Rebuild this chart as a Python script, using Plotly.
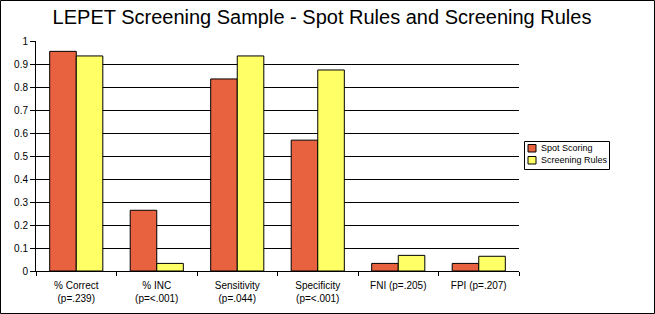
import plotly.graph_objects as go

categories = ["% Correct<br>(p=.239)", "% INC<br>(p=<.001)", "Sensitivity<br>(p=.044)",
              "Specificity<br>(p=<.001)", "FNI (p=.205)", "FPI (p=.207)"]
spot_scoring = [0.955, 0.264, 0.835, 0.569, 0.033, 0.033]
screening_rules = [0.935, 0.033, 0.935, 0.874, 0.068, 0.064]
series_names = ["Spot Scoring", "Screening Rules"]
series_colors = ["#E8623F", "#FFFF66"]
y_ticks = [0, 0.1, 0.2, 0.3, 0.4, 0.5, 0.6, 0.7, 0.8, 0.9, 1]
y_labels = ["0", "0.1", "0.2", "0.3", "0.4", "0.5", "0.6", "0.7", "0.8", "0.9", "1"]

W, H = 655, 314
L, R, T, B = 36, 136, 41, 43
pw, ph = W - L - R, H - T - B


def px(x):
    return (x - L) / pw


def py(y):
    return (H - B - y) / ph


fig = go.Figure()
for name, vals, col in zip(series_names, [spot_scoring, screening_rules], series_colors):
    fig.add_trace(go.Bar(x=categories, y=vals, name=name,
                         marker=dict(color=col, line=dict(color="black", width=1))))

fig.update_layout(
    width=W, height=H,
    margin=dict(l=L, r=R, t=T, b=B, autoexpand=False),
    paper_bgcolor="white", plot_bgcolor="white",
    font=dict(family="Liberation Sans, Arial", size=10, color="black"),
    title=dict(text="LEPET Screening Sample - Spot Rules and Screening Rules",
               x=322 / W, xanchor="center", y=1 - 17 / H, yanchor="middle",
               font=dict(size=20, family="Liberation Sans, Arial", color="black")),
    barmode="group", bargap=0.34, bargroupgap=0,
    showlegend=False,
    xaxis=dict(showgrid=False, showline=True, linecolor="black", linewidth=1,
               ticks="outside", tickson="boundaries", ticklen=4, tickcolor="black",
               tickfont=dict(size=10), range=[-0.5, 5.5], ticklabelstandoff=5,
               automargin=False),
    yaxis=dict(range=[0, 1], tickvals=y_ticks, ticktext=y_labels, showgrid=True,
               gridcolor="black", gridwidth=1, showline=True, linecolor="black",
               linewidth=1, ticks="outside", ticklen=5, tickcolor="black",
               zeroline=False, tickfont=dict(size=10), automargin=False),
)

# outer border
fig.add_shape(type="rect", xref="paper", yref="paper",
              x0=px(0.5), x1=px(W - 0.5), y0=py(H - 0.5), y1=py(0.5),
              line=dict(color="black", width=1), fillcolor="rgba(0,0,0,0)", layer="above")

# custom legend
fig.add_shape(type="rect", xref="paper", yref="paper",
              x0=px(524.5), x1=px(609.5), y0=py(169.5), y1=py(141.5),
              line=dict(color="black", width=1), fillcolor="white", layer="above")
for i, (name, col) in enumerate(zip(series_names, series_colors)):
    top = 144.5 + i * 12
    fig.add_shape(type="rect", xref="paper", yref="paper",
                  x0=px(528), x1=px(536), y0=py(top + 7.5), y1=py(top),
                  line=dict(color="black", width=1), fillcolor=col, layer="above")
    fig.add_annotation(xref="paper", yref="paper", x=px(538.5), y=py(top + 3.8),
                       xanchor="left", yanchor="middle", showarrow=False,
                       text=name, font=dict(size=9, color="black"))

fig.write_html("out.html")
